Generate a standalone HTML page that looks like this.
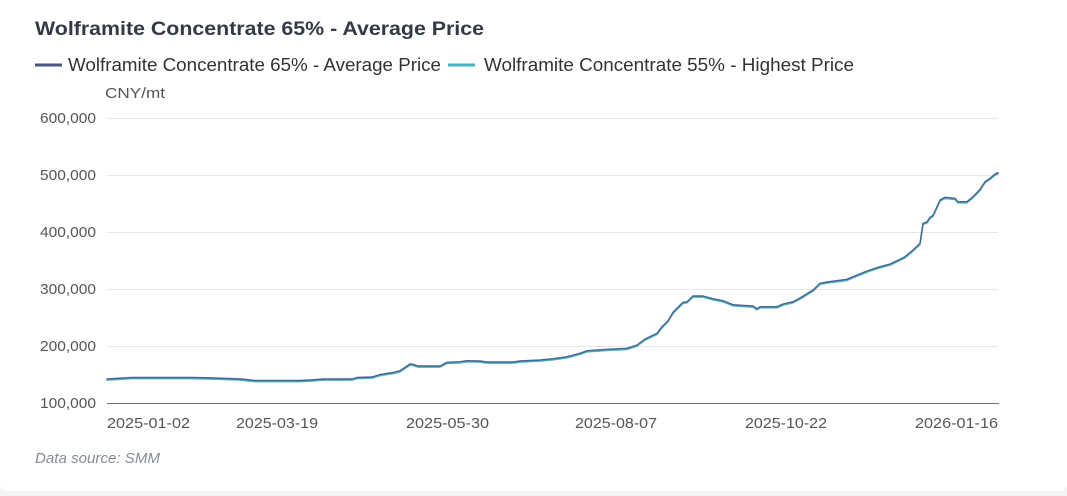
<!DOCTYPE html>
<html><head><meta charset="utf-8"><style>
html,body{margin:0;padding:0;background:#f2f3f5;}
body{width:1067px;height:496px;overflow:hidden;position:relative;}
.card{position:absolute;left:0;top:0;width:1067px;height:491px;background:#fff;border-radius:0 0 7px 7px;}
svg{position:absolute;left:0;top:0;}
text{font-family:"Liberation Sans",sans-serif;}
</style></head><body>
<div class="card"></div>
<svg width="1067" height="496" viewBox="0 0 1067 496">
<text x="35" y="35" font-size="19" font-weight="bold" fill="#333a46" textLength="449" lengthAdjust="spacingAndGlyphs">Wolframite Concentrate 65% - Average Price</text>
<line x1="35" y1="65" x2="62" y2="65" stroke="#4a5584" stroke-width="3"/>
<text x="68" y="71" font-size="18" fill="#333" textLength="373" lengthAdjust="spacingAndGlyphs">Wolframite Concentrate 65% - Average Price</text>
<line x1="448" y1="65" x2="475" y2="65" stroke="#4bb0c0" stroke-width="3"/>
<text x="484" y="71" font-size="18" fill="#333" textLength="370" lengthAdjust="spacingAndGlyphs">Wolframite Concentrate 55% - Highest Price</text>
<text x="105" y="98" font-size="15" fill="#555" textLength="60" lengthAdjust="spacingAndGlyphs">CNY/mt</text>
<g stroke="#e6e6e6" stroke-width="1">
<line x1="107" y1="118.5" x2="998" y2="118.5"/>
<line x1="107" y1="175.5" x2="998" y2="175.5"/>
<line x1="107" y1="232.5" x2="998" y2="232.5"/>
<line x1="107" y1="289.5" x2="998" y2="289.5"/>
<line x1="107" y1="346.5" x2="998" y2="346.5"/>
</g>
<line x1="107" y1="403.5" x2="999" y2="403.5" stroke="#6e7079" stroke-width="1"/>
<g font-size="15" fill="#555">
<text x="40" y="123" textLength="56" lengthAdjust="spacingAndGlyphs">600,000</text>
<text x="40" y="180" textLength="56" lengthAdjust="spacingAndGlyphs">500,000</text>
<text x="40" y="237" textLength="56" lengthAdjust="spacingAndGlyphs">400,000</text>
<text x="40" y="294" textLength="56" lengthAdjust="spacingAndGlyphs">300,000</text>
<text x="40" y="351" textLength="56" lengthAdjust="spacingAndGlyphs">200,000</text>
<text x="40" y="408" textLength="56" lengthAdjust="spacingAndGlyphs">100,000</text>
</g>
<g font-size="15" fill="#555">
<text x="107" y="428" textLength="83" lengthAdjust="spacingAndGlyphs">2025-01-02</text>
<text x="236" y="428" textLength="82" lengthAdjust="spacingAndGlyphs">2025-03-19</text>
<text x="406" y="428" textLength="83" lengthAdjust="spacingAndGlyphs">2025-05-30</text>
<text x="575" y="428" textLength="82" lengthAdjust="spacingAndGlyphs">2025-08-07</text>
<text x="745" y="428" textLength="82" lengthAdjust="spacingAndGlyphs">2025-10-22</text>
<text x="915" y="428" textLength="83" lengthAdjust="spacingAndGlyphs">2026-01-16</text>
</g>
<g fill="none" stroke-linejoin="round" stroke-linecap="round">
<polyline transform="translate(0,1.1)" stroke="#4bb0c0" stroke-width="1.6" points="107,379 131,377.5 193,377.5 214,378 241,379 255,380.5 300,380.5 310,380 324,379 352,379 357,377.5 372,377 380,374.5 393,372.5 400,370.7 410,364 413,364.3 418,366 440,366 447,362.3 460,361.7 467,360.7 480,361 487,362 513,362 520,361 540,360 553,358.7 567,356.7 580,353.3 587,350.7 607,349.3 627,348.3 637,345 645,339 657,333.3 662,326.7 668,320.7 673,312.3 683,302.3 687,301.7 693,296 703,296 713,298.7 723,300.7 733,304.7 742,305.3 753,306 757,308.7 760,306.7 777,306.7 783,304 793,301.7 800,298 813,290 820,283.3 827,282 847,279.3 853,276.7 867,271 880,266.7 890,264 897,260.7 905,256.7 913,250 920,243.3 923,223.3 927,222 930,217.3 933,215.3 937,206.7 940,200 945,197.3 955,198.3 958,201.7 967,201.7 973,196.7 980,189.3 985,181.7 990,178.3 995,174 998,172.7"/>
<polyline stroke="#4a6590" stroke-width="1.4" points="107,379 131,377.5 193,377.5 214,378 241,379 255,380.5 300,380.5 310,380 324,379 352,379 357,377.5 372,377 380,374.5 393,372.5 400,370.7 410,364 413,364.3 418,366 440,366 447,362.3 460,361.7 467,360.7 480,361 487,362 513,362 520,361 540,360 553,358.7 567,356.7 580,353.3 587,350.7 607,349.3 627,348.3 637,345 645,339 657,333.3 662,326.7 668,320.7 673,312.3 683,302.3 687,301.7 693,296 703,296 713,298.7 723,300.7 733,304.7 742,305.3 753,306 757,308.7 760,306.7 777,306.7 783,304 793,301.7 800,298 813,290 820,283.3 827,282 847,279.3 853,276.7 867,271 880,266.7 890,264 897,260.7 905,256.7 913,250 920,243.3 923,223.3 927,222 930,217.3 933,215.3 937,206.7 940,200 945,197.3 955,198.3 958,201.7 967,201.7 973,196.7 980,189.3 985,181.7 990,178.3 995,174 998,172.7"/>
</g>
<text x="35" y="463" font-size="15" font-style="italic" fill="#868b96" textLength="125" lengthAdjust="spacingAndGlyphs">Data source:  SMM</text>
</svg>
</body></html>
